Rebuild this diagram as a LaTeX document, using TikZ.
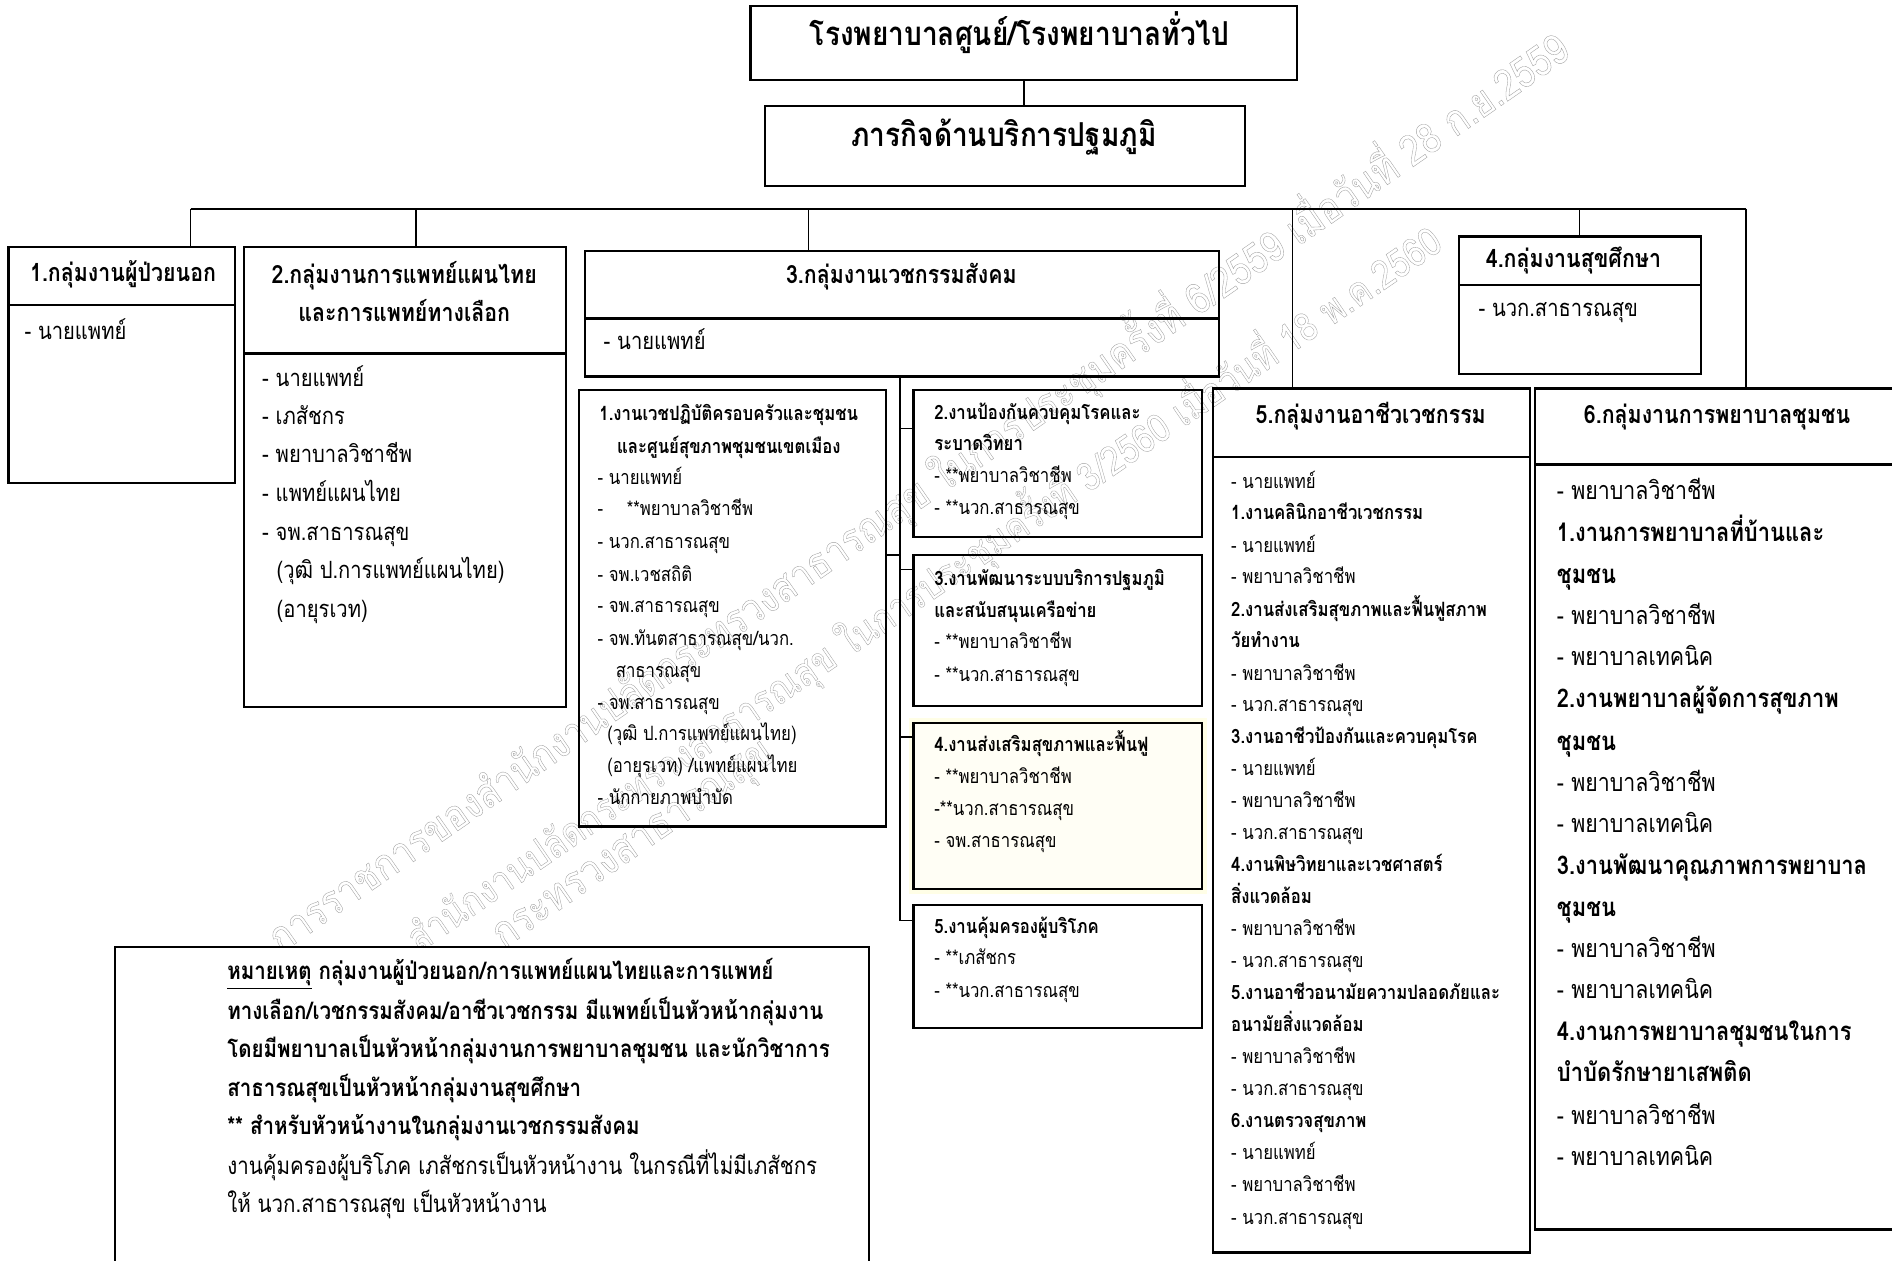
\documentclass[tikz,border=0pt]{standalone}
\usepackage{fontspec}
\usepackage{graphicx}
\setmainfont[Script=Thai,FakeStretch=0.85]{Loma}
\usetikzlibrary{fit}
\newcommand{\wmtext}[1]{\special{pdf:literal direct 1 Tr 0.16 w}#1\special{pdf:literal direct 0 Tr}}
\tikzset{
  box/.style={draw, line width=1.1pt, inner sep=0pt},
  conn/.style={line width=0.8pt},
  divline/.style={line width=1.1pt},
  tl/.style={anchor=west, inner sep=0pt, text height=0.55em, text depth=0pt},
  tc/.style={anchor=center, inner sep=0pt, text height=0.55em, text depth=0pt},
  ftitle/.style={font=\bfseries\fontsize{16.4}{20}\selectfont},
  fhead/.style={font=\bfseries\fontsize{12.5}{15}\selectfont},
  fitem/.style={font=\fontsize{11.8}{14}\selectfont},
  fshead/.style={font=\bfseries\fontsize{9.8}{12}\selectfont},
  fsitem/.style={font=\fontsize{9.8}{12}\selectfont},
  fbhead/.style={font=\bfseries\fontsize{12.8}{15}\selectfont},
  fbitem/.style={font=\fontsize{12.5}{15}\selectfont},
  fnote/.style={font=\bfseries\fontsize{12}{14}\selectfont},
  fnoter/.style={font=\fontsize{12}{14}\selectfont},
  wmark/.style={inner sep=0pt, text=black!38},
}
\begin{document}
\begin{tikzpicture}[x=0.6pt,y=-0.6pt]
\clip (0,0) rectangle (1568,1045);
\fill[white] (0,0) rectangle (1568,1045);

% watermark
\node[wmark, rotate=34.8] (wma) at (760,407) {\resizebox{782pt}{!}{\fontsize{20}{20}\selectfont\wmtext{การราชการของสำนักงานปลัดกระทรวงสาธารณสุข ในการประชุมครั้งที่ 6/2559 เมื่อวันที่ 28 ก.ย.2559}}};
\node[wmark, rotate=34.5] (wmb) at (765,487) {\resizebox{619pt}{!}{\fontsize{20}{20}\selectfont\wmtext{สำนักงานปลัดกระทรวงสาธารณสุข ในการประชุมครั้งที่ 3/2560 เมื่อวันที่ 18 พ.ค.2560}}};
\node[wmark, rotate=34.9] (wmc) at (527,703) {\resizebox{165pt}{!}{\fontsize{20}{20}\selectfont\wmtext{กระทรวงสาธารณสุข}}};

% top boxes
\node[box, fit={(622,5)(1075,66)}] (top) {};
\node[tc, ftitle] (toptxt) at (845,33) {โรงพยาบาลศูนย์/โรงพยาบาลทั่วไป};
\node[box, fit={(634,88)(1032,154)}] (mis) {};
\node[tc, ftitle] (mistxt) at (832,117) {ภารกิจด้านบริการปฐมภูมิ};
\draw[conn] (top.south) -- (top.south |- mis.north);

% group boxes
\node[box, fit={(7,205)(195,400)}] (b1) {};
\node[box, fit={(202,205)(469,586)}] (b2) {};
\node[box, fit={(485,208)(1010,312)}] (b3) {};
\node[box, fit={(1209,196)(1410,310)}] (b4) {};
\node[box, fit={(1005,322)(1268,1038)}] (b5) {};
\node[box, fit={(1272,322)(1620,1019)}] (b6) {};

% dividers
\draw[divline] (7,253) -- (195,253);
\draw[divline] (202,293) -- (469,293);
\draw[divline] (485,264) -- (1010,264);
\draw[divline] (1209,236) -- (1410,236);
\draw[divline] (1005,379) -- (1268,379);
\draw[divline] (1272,385) -- (1620,385);

% bus
\coordinate (busL) at (158,173);
\coordinate (busR) at (1447,173);
\draw[conn] (busL) -- (busR);
\draw[conn] (busL) -- (busL |- b1.north);
\coordinate (bus2) at (345,173);
\draw[conn] (bus2) -- (bus2 |- b2.north);
\coordinate (bus3) at (670,173);
\draw[conn] (bus3) -- (bus3 |- b3.north);
\coordinate (bus5) at (1071,173);
\draw[conn] (bus5) -- (bus5 |- b5.north);
\coordinate (bus4) at (1309,173);
\draw[conn] (bus4) -- (bus4 |- b4.north);
\draw[conn] (busR) -- (busR |- b6.north);

% group headers
\node[tc, fhead] (h1) at (102,229) {1.กลุ่มงานผู้ป่วยนอก};
\node[tc, fhead] (h2a) at (335,230) {2.กลุ่มงานการแพทย์แผนไทย};
\node[tc, fhead] (h2b) at (335,262) {และการแพทย์ทางเลือก};
\node[tc, fhead] (h3) at (747,230) {3.กลุ่มงานเวชกรรมสังคม};
\node[tc, fhead] (h4) at (1304,217) {4.กลุ่มงานสุขศึกษา};
\node[tc, fhead] (h5) at (1136,346) {5.กลุ่มงานอาชีวเวชกรรม};
\node[tc, fhead] (h6) at (1423,346) {6.กลุ่มงานการพยาบาลชุมชน};

% box 1
\node[tl, fitem] (t1a) at (20,277) {- นายแพทย์};
% box 2
\node[tl, fitem] (t2a) at (217,316) {- นายแพทย์};
\node[tl, fitem] (t2b) at (217,347) {- เภสัชกร};
\node[tl, fitem] (t2c) at (217,379) {- พยาบาลวิชาชีพ};
\node[tl, fitem] (t2d) at (217,411) {- แพทย์แผนไทย};
\node[tl, fitem] (t2e) at (217,443) {- จพ.สาธารณสุข};
\node[tl, fitem] (t2f) at (229,475) {(วุฒิ ป.การแพทย์แผนไทย)};
\node[tl, fitem] (t2g) at (229,507) {(อายุรเวท)};
% box 3
\node[tl, fitem] (t3a) at (500,285) {- นายแพทย์};
% box 4
\node[tl, fitem] (t4a) at (1225,258) {- นวก.สาธารณสุข};

% sub boxes of box 3
\node[box, fit={(480,323)(734,685)}] (s1) {};
\node[box, fit={(757,323)(996,445)}] (s2) {};
\node[box, fit={(757,460)(996,585)}] (s3) {};
\fill[yellow!10] (753,595) rectangle (1000,741);
\node[box, fill=yellow!4, fit={(757,599)(996,737)}] (s4) {};
\node[box, fit={(757,750)(996,852)}] (s5) {};

\coordinate (vtop) at (746,312);
\coordinate (vbot) at (746,763);
\draw[conn] (vtop) -- (vbot);
\draw[conn] (s1.east |- 0,460) -- (vtop |- 0,460);
\draw[conn] (vtop |- 0,355) -- (s2.west |- 0,355);
\draw[conn] (vtop |- 0,472) -- (s3.west |- 0,472);
\draw[conn] (vtop |- 0,611) -- (s4.west |- 0,611);
\draw[conn] (vbot) -- (s5.west |- vbot);

% sub 1
\node[tc, fshead] (u1a) at (604,344) {1.งานเวชปฏิบัติครอบครัวและชุมชน};
\node[tc, fshead] (u1b) at (604,371) {และศูนย์สุขภาพชุมชนเขตเมือง};
\node[tl, fsitem] (u1c) at (495,397) {- นายแพทย์};
\node[tl, fsitem] (u1d) at (495,423) {-\hspace{1.2em}**พยาบาลวิชาชีพ};
\node[tl, fsitem] (u1e) at (495,450) {- นวก.สาธารณสุข};
\node[tl, fsitem] (u1f) at (495,477) {- จพ.เวชสถิติ};
\node[tl, fsitem] (u1g) at (495,503) {- จพ.สาธารณสุข};
\node[tl, fsitem] (u1h) at (495,530) {- จพ.ทันตสาธารณสุข/นวก.};
\node[tl, fsitem] (u1i) at (510,557) {สาธารณสุข};
\node[tl, fsitem] (u1j) at (495,583) {- จพ.สาธารณสุข};
\node[tl, fsitem] (u1k) at (503,609) {(วุฒิ ป.การแพทย์แผนไทย)};
\node[tl, fsitem] (u1l) at (503,636) {(อายุรเวท) /แพทย์แผนไทย};
\node[tl, fsitem] (u1m) at (495,662) {- นักกายภาพบำบัด};
% sub 2
\node[tl, fshead] (u2a) at (774,343) {2.งานป้องกันควบคุมโรคและ};
\node[tl, fshead] (u2b) at (774,369) {ระบาดวิทยา};
\node[tl, fsitem] (u2c) at (774,395) {- **พยาบาลวิชาชีพ};
\node[tl, fsitem] (u2d) at (774,422) {- **นวก.สาธารณสุข};
% sub 3
\node[tl, fshead] (u3a) at (774,481) {3.งานพัฒนาระบบบริการปฐมภูมิ};
\node[tl, fshead] (u3b) at (774,507) {และสนับสนุนเครือข่าย};
\node[tl, fsitem] (u3c) at (774,533) {- **พยาบาลวิชาชีพ};
\node[tl, fsitem] (u3d) at (774,560) {- **นวก.สาธารณสุข};
% sub 4
\node[tl, fshead] (u4a) at (774,618) {4.งานส่งเสริมสุขภาพและฟื้นฟู};
\node[tl, fsitem] (u4b) at (774,645) {- **พยาบาลวิชาชีพ};
\node[tl, fsitem] (u4c) at (774,671) {-**นวก.สาธารณสุข};
\node[tl, fsitem] (u4d) at (774,698) {- จพ.สาธารณสุข};
% sub 5
\node[tl, fshead] (u5a) at (774,769) {5.งานคุ้มครองผู้บริโภค};
\node[tl, fsitem] (u5b) at (774,795) {- **เภสัชกร};
\node[tl, fsitem] (u5c) at (774,822) {- **นวก.สาธารณสุข};

% box 5 contents
\node[tl, fsitem] (v01) at (1020,400) {- นายแพทย์};
\node[tl, fshead] (v02) at (1020,426) {1.งานคลินิกอาชีวเวชกรรม};
\node[tl, fsitem] (v03) at (1020,453) {- นายแพทย์};
\node[tl, fsitem] (v04) at (1020,479) {- พยาบาลวิชาชีพ};
\node[tl, fshead] (v05) at (1020,506) {2.งานส่งเสริมสุขภาพและฟื้นฟูสภาพ};
\node[tl, fshead] (v06) at (1020,532) {วัยทำงาน};
\node[tl, fsitem] (v07) at (1020,559) {- พยาบาลวิชาชีพ};
\node[tl, fsitem] (v08) at (1020,585) {- นวก.สาธารณสุข};
\node[tl, fshead] (v09) at (1020,612) {3.งานอาชีวป้องกันและควบคุมโรค};
\node[tl, fsitem] (v10) at (1020,638) {- นายแพทย์};
\node[tl, fsitem] (v11) at (1020,665) {- พยาบาลวิชาชีพ};
\node[tl, fsitem] (v12) at (1020,691) {- นวก.สาธารณสุข};
\node[tl, fshead] (v13) at (1020,718) {4.งานพิษวิทยาและเวชศาสตร์};
\node[tl, fshead] (v14) at (1020,744) {สิ่งแวดล้อม};
\node[tl, fsitem] (v15) at (1020,771) {- พยาบาลวิชาชีพ};
\node[tl, fsitem] (v16) at (1020,797) {- นวก.สาธารณสุข};
\node[tl, fshead] (v17) at (1020,824) {5.งานอาชีวอนามัยความปลอดภัยและ};
\node[tl, fshead] (v18) at (1020,850) {อนามัยสิ่งแวดล้อม};
\node[tl, fsitem] (v19) at (1020,877) {- พยาบาลวิชาชีพ};
\node[tl, fsitem] (v20) at (1020,903) {- นวก.สาธารณสุข};
\node[tl, fshead] (v21) at (1020,930) {6.งานตรวจสุขภาพ};
\node[tl, fsitem] (v22) at (1020,956) {- นายแพทย์};
\node[tl, fsitem] (v23) at (1020,983) {- พยาบาลวิชาชีพ};
\node[tl, fsitem] (v24) at (1020,1010) {- นวก.สาธารณสุข};

% box 6 contents
\node[tl, fbitem] (w01) at (1290,409) {- พยาบาลวิชาชีพ};
\node[tl, fbhead] (w02) at (1290,444) {1.งานการพยาบาลที่บ้านและ};
\node[tl, fbhead] (w03) at (1290,479) {ชุมชน};
\node[tl, fbitem] (w04) at (1290,513) {- พยาบาลวิชาชีพ};
\node[tl, fbitem] (w05) at (1290,547) {- พยาบาลเทคนิค};
\node[tl, fbhead] (w06) at (1290,582) {2.งานพยาบาลผู้จัดการสุขภาพ};
\node[tl, fbhead] (w07) at (1290,617) {ชุมชน};
\node[tl, fbitem] (w08) at (1290,651) {- พยาบาลวิชาชีพ};
\node[tl, fbitem] (w09) at (1290,685) {- พยาบาลเทคนิค};
\node[tl, fbhead] (w10) at (1290,720) {3.งานพัฒนาคุณภาพการพยาบาล};
\node[tl, fbhead] (w11) at (1290,755) {ชุมชน};
\node[tl, fbitem] (w12) at (1290,789) {- พยาบาลวิชาชีพ};
\node[tl, fbitem] (w13) at (1290,823) {- พยาบาลเทคนิค};
\node[tl, fbhead] (w14) at (1290,858) {4.งานการพยาบาลชุมชนในการ};
\node[tl, fbhead] (w15) at (1290,892) {บำบัดรักษายาเสพติด};
\node[tl, fbitem] (w16) at (1290,927) {- พยาบาลวิชาชีพ};
\node[tl, fbitem] (w17) at (1290,961) {- พยาบาลเทคนิค};

% note box
\node[box, fill=white, fit={(95,785)(720,1100)}] (note) {};
\node[tl, fnote] (n1) at (188,807) {\underline{หมายเหตุ} กลุ่มงานผู้ป่วยนอก/การแพทย์แผนไทยและการแพทย์};
\node[tl, fnote] (n2) at (188,840) {ทางเลือก/เวชกรรมสังคม/อาชีวเวชกรรม มีแพทย์เป็นหัวหน้ากลุ่มงาน};
\node[tl, fnote] (n3) at (188,872) {โดยมีพยาบาลเป็นหัวหน้ากลุ่มงานการพยาบาลชุมชน และนักวิชาการ};
\node[tl, fnote] (n4) at (188,904) {สาธารณสุขเป็นหัวหน้ากลุ่มงานสุขศึกษา};
\node[tl, fnote] (n5) at (188,936) {** สำหรับหัวหน้างานในกลุ่มงานเวชกรรมสังคม};
\node[tl, fnoter] (n6) at (188,969) {งานคุ้มครองผู้บริโภค เภสัชกรเป็นหัวหน้างาน ในกรณีที่ไม่มีเภสัชกร};
\node[tl, fnoter] (n7) at (188,1000) {ให้ นวก.สาธารณสุข เป็นหัวหน้างาน};
\end{tikzpicture}
\end{document}
